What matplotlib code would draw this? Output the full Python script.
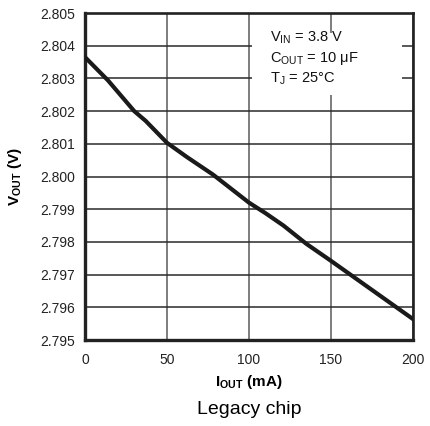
import matplotlib
matplotlib.use("Agg")
from matplotlib import pyplot as plt
from matplotlib.patches import Rectangle

plt.rcParams['font.family'] = ['Liberation Sans', 'DejaVu Sans']
plt.rcParams['mathtext.fontset'] = 'custom'
plt.rcParams['mathtext.rm'] = 'Liberation Sans'
plt.rcParams['mathtext.it'] = 'Liberation Sans:italic'
plt.rcParams['mathtext.bf'] = 'Liberation Sans:bold'

# load current (mA) vs output voltage (V)
i_out = [0, 14, 30, 37, 50, 62, 78, 100, 110, 121, 135, 150, 200]
v_out = [2.80365, 2.80294, 2.8020, 2.8017, 2.80103, 2.8006, 2.80006,
         2.7992, 2.79888, 2.7985, 2.79794, 2.79742, 2.79564]

x_ticks = [0, 50, 100, 150, 200]
y_ticks = [2.795, 2.796, 2.797, 2.798, 2.799, 2.800, 2.801, 2.802, 2.803, 2.804, 2.805]

conditions = ["V$_{\\mathregular{IN}}$ = 3.8 V",
              "C$_{\\mathregular{OUT}}$ = 10 \u03bcF",
              "T$_{\\mathregular{J}}$ = 25\u00b0C"]


def main():
    fig = plt.figure(figsize=(4.3, 4.26), dpi=100)
    ax = fig.add_axes([85 / 430, 86 / 426, 328 / 430, 327 / 426])

    ax.plot(i_out, v_out, color='#1a1a1a', linewidth=3.0, zorder=3,
            solid_joinstyle='round')

    ax.set_xlim(0, 200)
    ax.set_ylim(2.795, 2.805)
    ax.set_xticks(x_ticks)
    ax.set_yticks(y_ticks)
    ax.set_yticklabels([f"{v:.3f}" for v in y_ticks])
    ax.yaxis.grid(True, color='#2a2a2a', linewidth=1.1)
    ax.xaxis.grid(True, color='#5a5a5a', linewidth=1.1)
    ax.set_axisbelow(True)
    ax.tick_params(length=0, labelsize=10, colors='#222222')
    ax.tick_params(axis='y', pad=7)
    ax.tick_params(axis='x', pad=9)

    for side in ['left', 'bottom']:
        ax.spines[side].set_linewidth(2.4)
    for side in ['top', 'right']:
        ax.spines[side].set_linewidth(1.9)
    for s in ax.spines.values():
        s.set_color('#222222')

    ax.set_ylabel("$\\mathbf{V_{OUT}}$ (V)", fontsize=11, fontweight='bold', labelpad=12)
    ax.set_xlabel("$\\mathbf{I_{OUT}}$ (mA)", fontsize=11, fontweight='bold', labelpad=5)

    # white box behind the test conditions, the grid breaks there
    ax.add_patch(Rectangle((0.509, 0.749), 0.457, 0.19, transform=ax.transAxes,
                           facecolor='white', edgecolor='none', zorder=2))
    for txt, yy in zip(conditions, [0.914, 0.850, 0.786]):
        ax.text(0.564, yy, txt, transform=ax.transAxes, fontsize=10.5,
                va='baseline', ha='left', zorder=4, color='#111111')

    fig.text(249 / 430, 1 - 409 / 426, "Legacy chip", fontsize=14,
             ha='center', va='center')

    fig.savefig("out.png", dpi=100)
    plt.close(fig)


if __name__ == '__main__':
    main()
